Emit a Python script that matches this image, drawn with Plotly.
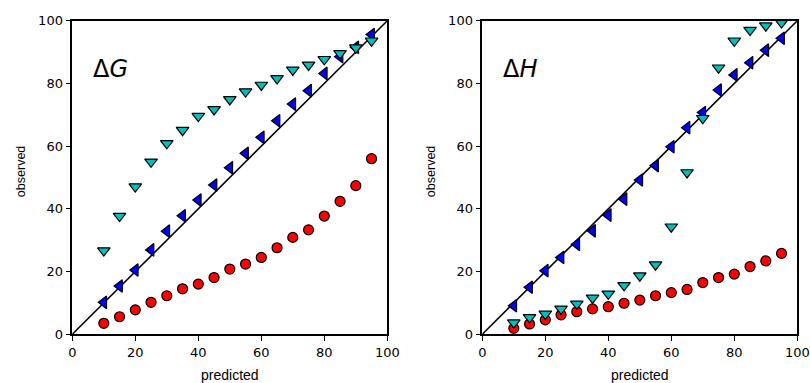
import plotly.graph_objects as go

predicted = [10, 15, 20, 25, 30, 35, 40, 45, 50, 55, 60, 65, 70, 75, 80, 85, 90, 95]

dG_red = [3.5, 5.6, 7.8, 10.2, 12.3, 14.5, 16.0, 18.1, 20.8, 22.4, 24.5, 27.6, 30.9, 33.3, 37.7, 42.4, 47.4, 56.0]
dG_blue = [10.2, 15.4, 20.5, 26.9, 32.9, 37.8, 42.8, 47.6, 53.1, 57.7, 62.8, 68.1, 73.4, 77.7, 83.2, 88.5, 91.5, 95.6]
dG_cyan = [26.7, 37.7, 47.1, 55.0, 60.9, 65.1, 69.6, 71.7, 74.9, 77.4, 79.5, 81.6, 84.3, 85.9, 87.7, 89.6, 91.4, 93.6]

dH_red = [1.9, 3.3, 4.6, 6.2, 7.2, 8.1, 8.8, 9.9, 10.9, 12.3, 13.3, 14.3, 16.5, 18.1, 19.2, 21.6, 23.4, 25.8]
dH_blue = [9.1, 15.0, 20.3, 24.5, 28.7, 33.0, 38.0, 43.1, 49.2, 53.8, 59.8, 65.9, 70.7, 77.9, 82.7, 86.6, 90.6, 94.4]
dH_cyan = [3.7, 5.4, 6.5, 8.1, 9.7, 11.6, 12.9, 15.6, 18.7, 22.2, 34.3, 51.6, 68.9, 85.0, 93.6, 97.0, 98.4, 99.4]

diag = [0, 100]
ticks = [0, 20, 40, 60, 80, 100]
panel_labels = ["Δ<i>G</i>", "Δ<i>H</i>"]

W, H = 810, 383
fig = go.Figure()

panels = [
    ("x", "y", dG_red, dG_blue, dG_cyan),
    ("x2", "y2", dH_red, dH_blue, dH_cyan),
]

for xa, ya, red, blue, cyan in panels:
    fig.add_trace(go.Scatter(x=diag, y=diag, mode="lines", line=dict(color="black", width=1.6),
                             xaxis=xa, yaxis=ya, showlegend=False, cliponaxis=True, hoverinfo="skip"))
    fig.add_trace(go.Scatter(x=predicted, y=red, mode="markers", xaxis=xa, yaxis=ya, showlegend=False,
                             marker=dict(symbol="circle", size=10, color="#ff0000",
                                         line=dict(color="black", width=1.2)), cliponaxis=False))
    fig.add_trace(go.Scatter(x=predicted, y=blue, mode="markers", xaxis=xa, yaxis=ya, showlegend=False,
                             marker=dict(symbol="triangle-left", size=11, color="#0000ff",
                                         line=dict(color="black", width=1.2)), cliponaxis=False))
    fig.add_trace(go.Scatter(x=predicted, y=cyan, mode="markers", xaxis=xa, yaxis=ya, showlegend=False,
                             marker=dict(symbol="triangle-down", size=11, color="#00bfbf",
                                         line=dict(color="black", width=1.2)), cliponaxis=False))

ydom = [1 - 334.3 / H, 1 - 20.7 / H]
xdoms = [[72.3 / W, 387.3 / W], [482.3 / W, 797.3 / W]]

axis_common = dict(range=[0, 100], tickvals=ticks, ticks="outside", ticklen=5, tickwidth=1.2,
                   tickcolor="black", showline=True, linecolor="black", linewidth=1.5, mirror=True,
                   showgrid=False, zeroline=False, automargin=False,
                   tickfont=dict(family="DejaVu Sans", size=13, color="black"))

fig.update_layout(
    width=W, height=H, autosize=False,
    margin=dict(l=0, r=0, t=0, b=0, pad=0),
    paper_bgcolor="white", plot_bgcolor="white",
    xaxis=dict(domain=xdoms[0], anchor="y", **axis_common),
    yaxis=dict(domain=ydom, anchor="x", **axis_common),
    xaxis2=dict(domain=xdoms[1], anchor="y2", **axis_common),
    yaxis2=dict(domain=ydom, anchor="x2", **axis_common),
)

annots = []
for i, (xa, ya) in enumerate([("x", "y"), ("x2", "y2")]):
    annots.append(dict(x=6.0, y=84.5, xref=xa, yref=ya, text=panel_labels[i], showarrow=False,
                       xanchor="left", yanchor="middle",
                       font=dict(family="DejaVu Sans", size=24, color="black")))
    annots.append(dict(x=0.5, y=-0.13, xref=xa + " domain", yref=ya + " domain", text="predicted",
                       showarrow=False, xanchor="center", yanchor="middle",
                       font=dict(family="Liberation Sans", size=14, color="black")))
    annots.append(dict(x=-0.162, y=0.518, xref=xa + " domain", yref=ya + " domain", text="observed",
                       showarrow=False, xanchor="center", yanchor="middle", textangle=-90,
                       font=dict(family="Liberation Sans", size=12.5, color="black")))
fig.update_layout(annotations=annots)

fig.write_html("out.html", config={"displayModeBar": False},
               post_script="document.body.style.margin='0';document.body.style.overflow='hidden';")
